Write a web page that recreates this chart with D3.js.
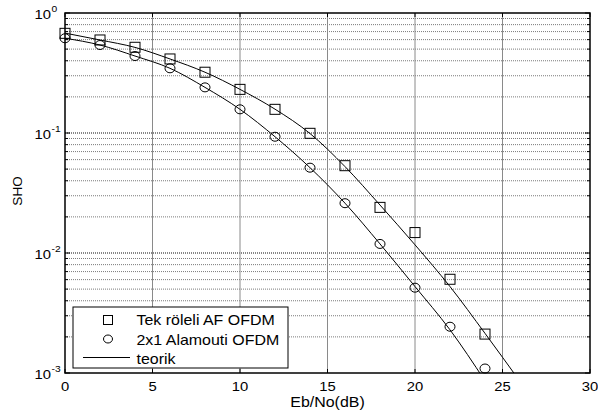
<!DOCTYPE html>
<meta charset="utf-8">
<script src="https://d3js.org/d3.v7.min.js"></script>
<style>
  body { margin: 0; background: #fff; }
  text { font-family: "Liberation Sans", Arial, sans-serif; fill: #000; }
</style>
<svg id="vis"></svg>
<script>
    // Dimensions and margins of graph
    var margin = {top: 13, right: 8, bottom: 40, left: 65},
        width = 598 - margin.left - margin.right,
        height = 413 - margin.top - margin.bottom;

    // simulated points (Eb/No in dB)
    let snr = [0, 2, 4, 6, 8, 10, 12, 14, 16, 18, 20, 22, 24]
    let tekRoleli = [0.677, 0.596, 0.518, 0.414, 0.321, 0.231, 0.1575, 0.0994, 0.0534, 0.024, 0.0148, 0.00604, 0.00211]
    let alamouti = [0.616, 0.541, 0.438, 0.346, 0.240, 0.1575, 0.0931, 0.0514, 0.026, 0.0119, 0.00514, 0.00243, 0.00109]

    // theoretical curves
    let theorySnr = [0, 2, 4, 6, 8, 10, 12, 14, 16, 18, 20, 22, 24, 26]
    let theoryTek = [0.68, 0.596, 0.517, 0.414, 0.321, 0.231, 0.158, 0.099, 0.0525, 0.0251, 0.0117, 0.00525, 0.00214, 0.00085]
    let theoryAlamouti = [0.616, 0.541, 0.438, 0.346, 0.240, 0.1575, 0.0931, 0.0514, 0.026, 0.0119, 0.00525, 0.00229, 0.00086, 0.0003]

    let xTicks = [0, 5, 10, 15, 20, 25, 30]
    let yDecades = [0, -1, -2, -3]
    let legendLabels = ['Tek röleli AF OFDM', '2x1 Alamouti OFDM', 'teorik']

    let svg = d3.select('#vis')
        .attr('width', 598)
        .attr('height', 413)
        .append('g')
        .attr('transform', 'translate(' + margin.left + ',' + margin.top + ')');

    // text in the original is a bit wider than Arial
    function label(g, tx, ty, s, size, anchor) {
        return g.append('text')
            .attr('transform', 'translate(' + tx + ',' + ty + ') scale(1.14,1)')
            .attr('text-anchor', anchor || 'start')
            .style('font-size', size + 'px')
            .text(s)
    }

    var x = d3.scaleLinear().domain([0, 30]).range([0, width]);
    var y = d3.scaleLog().domain([1e-3, 1]).range([height, 0]);

    svg.append('clipPath').attr('id', 'clip')
        .append('rect').attr('width', width).attr('height', height);

    // minor values for log grid
    let minor = []
    yDecades.slice(1).forEach(function (e) {
        for (let k = 2; k <= 9; k++) minor.push(k * Math.pow(10, e))
    })

    // grid
    let grid = svg.append('g')
    grid.selectAll('.hminor').data(minor).enter().append('line')
        .attr('x1', 0).attr('x2', width)
        .attr('y1', function (d) { return y(d) }).attr('y2', function (d) { return y(d) })
        .style('stroke', '#7a7a7a').style('stroke-width', 1).style('stroke-dasharray', '1,1')
    grid.selectAll('.hmajor').data(yDecades.slice(1, 3)).enter().append('line')
        .attr('x1', 0).attr('x2', width)
        .attr('y1', function (d) { return y(Math.pow(10, d)) }).attr('y2', function (d) { return y(Math.pow(10, d)) })
        .style('stroke', '#606060').style('stroke-width', 1.3).style('stroke-dasharray', '1,1')
    grid.selectAll('.vmajor').data(xTicks.slice(1, -1)).enter().append('line')
        .attr('x1', function (d) { return x(d) }).attr('x2', function (d) { return x(d) })
        .attr('y1', 0).attr('y2', height)
        .style('stroke', '#8a8a8a').style('stroke-width', 1)

    // theory lines
    let line = d3.line()
        .x(function (d) { return x(d[0]) })
        .y(function (d) { return y(d[1]) })
        .curve(d3.curveMonotoneX)
    let lines = svg.append('g').attr('clip-path', 'url(#clip)')
    lines.append('path').datum(d3.zip(theorySnr, theoryTek)).attr('d', line)
        .style('fill', 'none').style('stroke', '#000').style('stroke-width', 1)
    lines.append('path').datum(d3.zip(theorySnr, theoryAlamouti)).attr('d', line)
        .style('fill', 'none').style('stroke', '#000').style('stroke-width', 1)

    // markers
    svg.append('g').selectAll('rect').data(d3.zip(snr, tekRoleli)).enter().append('rect')
        .attr('x', function (d) { return x(d[0]) - 5 })
        .attr('y', function (d) { return y(d[1]) - 5 })
        .attr('width', 10).attr('height', 10)
        .style('fill', 'none').style('stroke', '#000').style('stroke-width', 1)
    svg.append('g').selectAll('ellipse').data(d3.zip(snr, alamouti)).enter().append('ellipse')
        .attr('cx', function (d) { return x(d[0]) })
        .attr('cy', function (d) { return y(d[1]) })
        .attr('rx', 5).attr('ry', 4.5)
        .style('fill', 'none').style('stroke', '#000').style('stroke-width', 1)

    // box and ticks
    let ax = svg.append('g')
    ax.append('rect').attr('width', width).attr('height', height)
        .style('fill', 'none').style('stroke', '#000').style('stroke-width', 1.5)
    xTicks.forEach(function (t) {
        ax.append('line').attr('x1', x(t)).attr('x2', x(t)).attr('y1', height).attr('y2', height - 4)
            .style('stroke', '#000')
        ax.append('line').attr('x1', x(t)).attr('x2', x(t)).attr('y1', 0).attr('y2', 4)
            .style('stroke', '#000')
        label(ax, x(t), height + 17.5, t, 13, 'middle')
    })
    minor.forEach(function (v) {
        ax.append('line').attr('x1', 0).attr('x2', 3).attr('y1', y(v)).attr('y2', y(v)).style('stroke', '#000')
        ax.append('line').attr('x1', width).attr('x2', width - 3).attr('y1', y(v)).attr('y2', y(v)).style('stroke', '#000')
    })
    yDecades.forEach(function (e) {
        let yy = y(Math.pow(10, e))
        ax.append('line').attr('x1', 0).attr('x2', 5).attr('y1', yy).attr('y2', yy).style('stroke', '#000')
        ax.append('line').attr('x1', width).attr('x2', width - 5).attr('y1', yy).attr('y2', yy).style('stroke', '#000')
        label(ax, -14, yy + 6, '10', 13, 'end')
        label(ax, -13.5, yy - 1.5, e === 0 ? '0' : '-' + (-e), 9, 'start')
    })

    // axis labels
    label(svg, width / 2, height + 33.5, 'Eb/No(dB)', 14, 'middle')
    svg.append('text')
        .attr('transform', 'translate(-43,' + (height / 2 - 2) + ') rotate(-90)')
        .attr('text-anchor', 'middle').style('font-size', '13.5px').text('SHO')

    // legend
    let lg = svg.append('g').attr('transform', 'translate(8,294)')
    lg.append('rect').attr('width', 215).attr('height', 61)
        .style('fill', '#fff').style('stroke', '#000').style('stroke-width', 1)
    lg.append('rect').attr('x', 30.5).attr('y', 8.5).attr('width', 9).attr('height', 9)
        .style('fill', 'none').style('stroke', '#000')
    lg.append('ellipse').attr('cx', 35).attr('cy', 32).attr('rx', 4.5).attr('ry', 4)
        .style('fill', 'none').style('stroke', '#000')
    lg.append('line').attr('x1', 10).attr('x2', 57).attr('y1', 50.5).attr('y2', 50.5)
        .style('stroke', '#000')
    legendLabels.forEach(function (s, i) {
        label(lg, 63.5, 18 + i * 19.5, s, 14, 'start')
    })
</script>
